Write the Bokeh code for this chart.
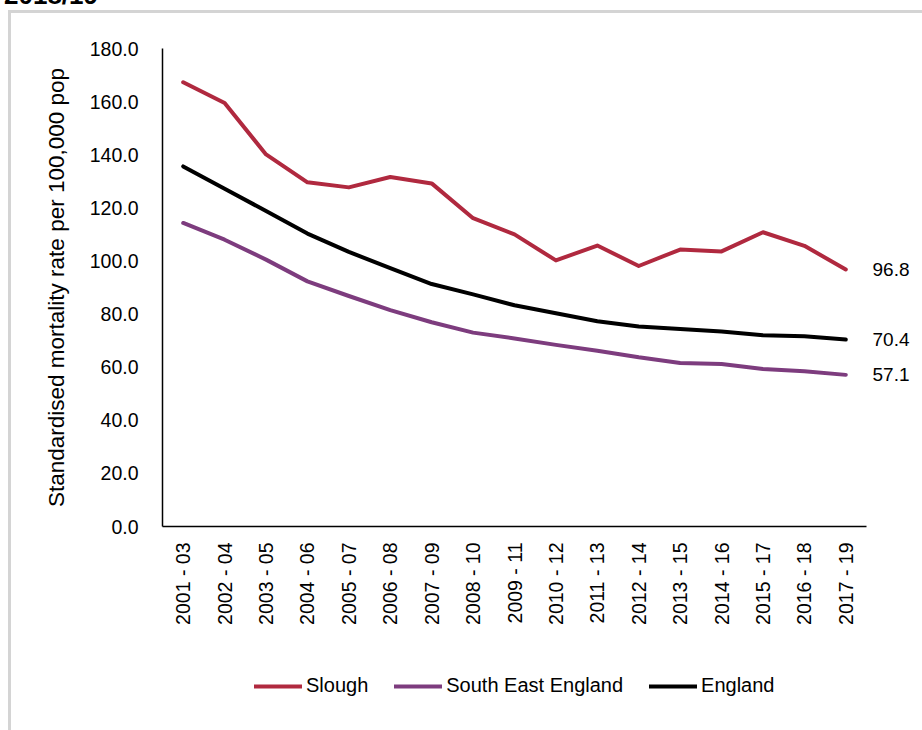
from math import pi

from bokeh.embed import file_html
from bokeh.layouts import column
from bokeh.models import (Div, FixedTicker, Legend, LegendItem, LinearAxis,
                          NumeralTickFormatter)
from bokeh.plotting import figure
from bokeh.resources import INLINE

# Three-year pooled periods
periods = ["2001 - 03", "2002 - 04", "2003 - 05", "2004 - 06", "2005 - 07",
           "2006 - 08", "2007 - 09", "2008 - 10", "2009 - 11", "2010 - 12",
           "2011 - 13", "2012 - 14", "2013 - 15", "2014 - 16", "2015 - 17",
           "2016 - 18", "2017 - 19"]

# Standardised mortality rate per 100,000 population
slough = [167.3, 159.5, 140.1, 129.6, 127.7, 131.6, 129.2, 116.1, 110.0,
          100.2, 105.8, 98.1, 104.3, 103.6, 110.8, 105.7, 96.8]
south_east = [114.3, 108.0, 100.5, 92.3, 86.8, 81.5, 76.9, 73.0, 70.8,
              68.4, 66.2, 63.7, 61.6, 61.2, 59.3, 58.5, 57.1]
england = [135.6, 127.2, 118.8, 110.3, 103.4, 97.3, 91.3, 87.4, 83.3,
           80.3, 77.3, 75.3, 74.4, 73.4, 72.0, 71.6, 70.4]

y_ticks = [0, 20, 40, 60, 80, 100, 120, 140, 160, 180]

FONT = "Liberation Sans"
TEXT = "#000000"
series = [
    ("Slough", slough, "#B0293F"),
    ("South East England", south_east, "#7D3C7E"),
    ("England", england, "#000000"),
]

# ---- main chart -----------------------------------------------------------
p = figure(width=911, height=627, x_range=periods, y_range=(0, 180),
           output_backend="svg", toolbar_location=None,
           min_border_left=151, min_border_right=56,
           min_border_top=35, min_border_bottom=114)
p.outline_line_color = None
p.xgrid.grid_line_color = None
p.ygrid.grid_line_color = None
p.x_range.range_padding = 0

p.yaxis.ticker = FixedTicker(ticks=y_ticks)
p.yaxis.formatter = NumeralTickFormatter(format="0.0")
p.yaxis.axis_label = "Standardised mortality rate per 100,000 pop"
p.yaxis.axis_label_text_font = FONT
p.yaxis.axis_label_text_font_size = "22.5px"
p.yaxis.axis_label_text_font_style = "normal"
p.yaxis.axis_label_text_color = TEXT
p.yaxis.axis_label_standoff = 18
p.yaxis.major_label_standoff = 18

p.xaxis.major_label_orientation = pi / 2
p.xaxis.major_label_standoff = 10

for ax in (p.xaxis, p.yaxis):
    ax.major_tick_line_color = None
    ax.minor_tick_line_color = None
    ax.axis_line_color = "#000000"
    ax.axis_line_width = 1.5
    ax.major_label_text_font = FONT
    ax.major_label_text_font_size = "19.5px"
    ax.major_label_text_color = TEXT

for name, vals, color in series:
    p.line(periods, vals, line_color=color, line_width=4,
           line_join="round", line_cap="round")

# latest value of each series printed beside the end of its line
end_axis = LinearAxis(ticker=FixedTicker(ticks=[s[-1] for _, s, _ in series]),
                      formatter=NumeralTickFormatter(format="0.0"),
                      axis_line_color=None, major_tick_line_color=None,
                      minor_tick_line_color=None, major_label_standoff=0,
                      major_label_text_font=FONT,
                      major_label_text_font_size="19px",
                      major_label_text_color=TEXT)
p.add_layout(end_axis, "right")

# ---- legend strip under the chart -----------------------------------------
key = figure(width=911, height=90, x_range=(0, 1), y_range=(0, 1),
             x_axis_type=None, y_axis_type=None, output_backend="svg",
             toolbar_location=None, min_border=0)
key.outline_line_color = None
key.grid.visible = False

items = []
for name, _, color in series:
    # a single undefined point: nothing is drawn, but the key glyph is styled
    r = key.line(x=[0], y=[float("nan")], line_color=color, line_width=4,
                 line_cap="round")
    items.append(LegendItem(label=name, renderers=[r]))

legend = Legend(items=items, orientation="horizontal", location=(92, 33),
                glyph_width=48, glyph_height=20, label_height=20,
                label_standoff=4, spacing=26, padding=0, margin=0,
                label_text_font=FONT, label_text_font_size="20px",
                label_text_color=TEXT, border_line_color=None,
                background_fill_alpha=0)
key.add_layout(legend, "center")

# ---- page: heading above a light grey panel -------------------------------
heading = Div(
    text='<span style="position:relative; top:-18px; white-space:nowrap">'
         '2018/19</span>',
    width=922, height=10, margin=0,
    styles={"font-family": FONT, "font-size": "26px", "font-weight": "bold",
            "line-height": "26px", "color": TEXT, "overflow": "hidden",
            "padding-left": "4px"})

panel = column(p, key, spacing=0,
               styles={"border-left": "3px solid #d4d4d4",
                       "border-top": "3px solid #d4d4d4",
                       "margin-left": "8px"})

page = column(heading, panel, spacing=0)

open("out.html", "w").write(file_html(page, INLINE))
